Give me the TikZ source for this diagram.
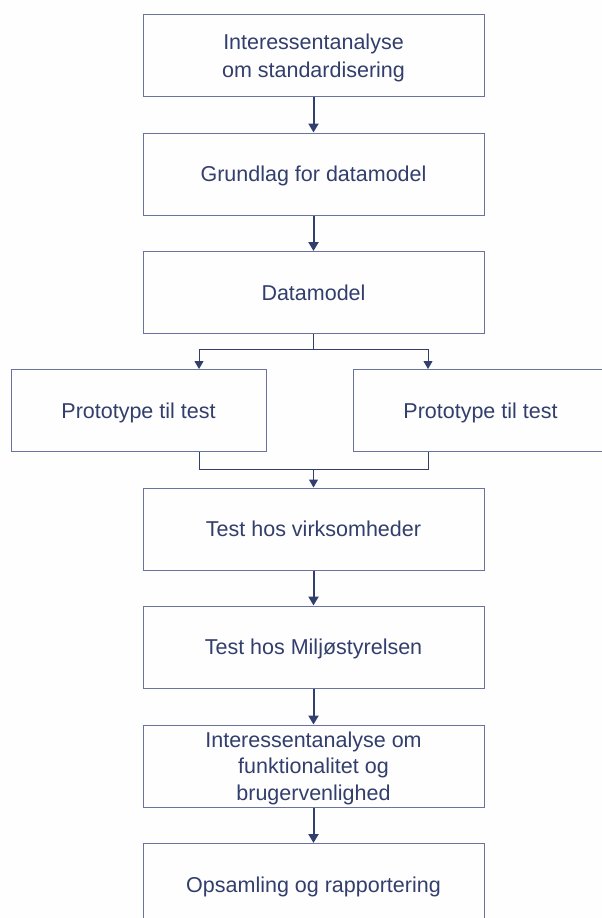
\documentclass[tikz,border=0pt]{standalone}
\usepackage{fontspec}
\setmainfont{Liberation Sans}
\usetikzlibrary{calc,arrows.meta}
\definecolor{navy}{RGB}{50,62,108}
\definecolor{rim}{RGB}{105,115,158}
\definecolor{paper}{RGB}{254,254,255}

\begin{document}
\begin{tikzpicture}[x=1pt,y=-1pt,
  stepbox/.style={draw=rim,line width=1pt,minimum width=341pt,minimum height=82pt,
    inner sep=0pt,align=center,text=navy,text depth=0pt,
    font=\fontsize{21.5}{26.5}\selectfont},
  protobox/.style={stepbox,minimum width=255pt},
  flow/.style={draw=navy,line width=2pt,-{Triangle[width=10pt,length=9pt]}},
  branch/.style={draw=navy,line width=1pt,-{Triangle[width=9pt,length=8pt]}},
  joint/.style={draw=navy,line width=1pt}]
\def\colx{313.5}

\fill[paper] (0,0) rectangle (602,918);
\useasboundingbox (0,0) rectangle (602,918);

% main column
\node[stepbox,font=\fontsize{21.5}{28}\selectfont,text depth=-3pt] (b1) at (\colx,55.5) {Interessentanalyse\\om standardisering};
\node[stepbox] (b2) at (\colx,174) {Grundlag for datamodel};
\node[stepbox] (b3) at (\colx,292.5) {Datamodel};

\node[protobox] (p1) at (138.5,410.5) {Prototype til test};
\node[protobox] (p2) at (480.5,410.5) {Prototype til test};

\node[stepbox] (b4) at (\colx,529) {Test hos virksomheder};
\node[stepbox] (b5) at (\colx,647) {Test hos Miljøstyrelsen};
\node[stepbox,text depth=-9pt] (b6) at (\colx,766) {Interessentanalyse om\\funktionalitet og\\brugervenlighed};
\node[stepbox] (b7) at (\colx,884.5) {Opsamling og rapportering};

\draw[flow] (b1) -- (b2);
\draw[flow] (b2) -- (b3);

% split to the two prototypes
\coordinate (sl) at (199,349);
\coordinate (sr) at (428,349);
\draw[joint] (b3.south) -- (b3.south |- sl);
\draw[joint] (sl) -- (sr);
\draw[branch] (sl) -- (sl |- p1.north);
\draw[branch] (sr) -- (sr |- p2.north);

% and back together
\coordinate (ml) at (199,469);
\coordinate (mr) at (428,469);
\draw[joint] (ml |- p1.south) -- (ml) -- (mr) -- (mr |- p2.south);
\draw[branch] (b4.north |- ml) -- (b4.north);

\draw[flow] (b4) -- (b5);
\draw[flow] (b5) -- (b6);
\draw[flow] (b6) -- (b7);

\end{tikzpicture}
\end{document}
